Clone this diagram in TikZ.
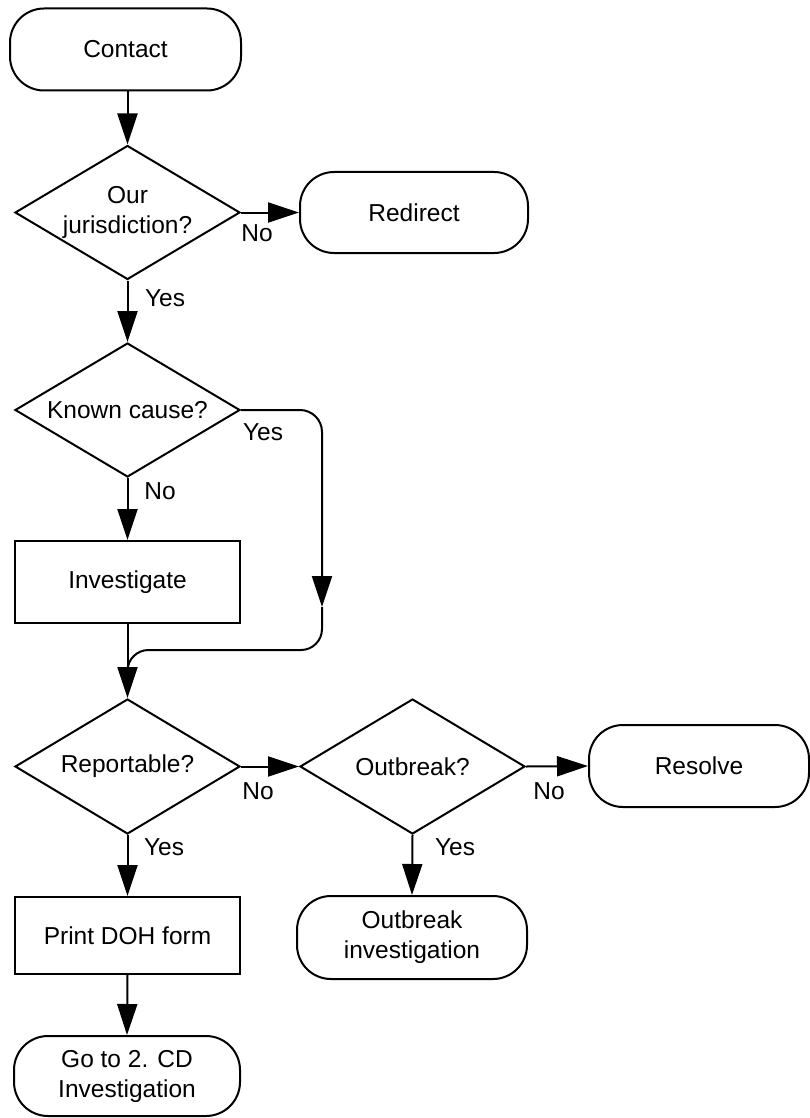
\documentclass[tikz,border=0pt]{standalone}
\usepackage{fontspec}
\setmainfont{Liberation Sans}
\usetikzlibrary{shapes.geometric,arrows.meta}
\begin{document}
\begin{tikzpicture}[x=1pt,y=-1pt,
  every node/.style={font=\fontsize{24.5}{30}\selectfont, align=center},
  stadium/.style={draw, line width=2pt, rectangle, rounded corners=34pt, inner sep=0pt},
  procbox/.style={draw, line width=2pt, rectangle, inner sep=0pt},
  decision/.style={draw, line width=2pt, diamond, aspect=1.667, inner sep=0pt, minimum width=225pt, minimum height=134pt},
  line/.style={line width=2pt},
  conn/.style={line width=2pt, -{Triangle[length=31pt,width=20pt]}},
  lbl/.style={inner sep=0pt}]
\useasboundingbox (0,0) rectangle (810,1118);

% nodes
\node[stadium, minimum width=231pt, minimum height=82pt] (contact) at (125.5,49.5) {Contact};
\node[decision] (jur) at (127.5,212.5) {Our\\jurisdiction?};
\node[stadium, minimum width=228pt, minimum height=81pt] (redirect) at (414,212.5) {Redirect};
\node[decision] (known) at (127.5,410) {Known cause?};
\node[procbox, minimum width=225pt, minimum height=82pt] (inv) at (127.5,582) {Investigate};
\node[decision, minimum height=135pt] (rep) at (127.5,766.5) {Reportable?};
\node[decision, minimum height=135pt] (outb) at (412.5,766.5) {Outbreak?};
\node[stadium, minimum width=220pt, minimum height=82pt] (resolve) at (699,766) {Resolve};
\node[stadium, minimum width=230pt, minimum height=83pt] (oinv) at (412,937.5) {Outbreak\\investigation};
\node[procbox, minimum width=225pt, minimum height=77pt] (print) at (127.5,935.5) {Print DOH form};
\node[stadium, minimum width=226pt, minimum height=80pt] (goto) at (127,1076) {Go to 2. CD\\Investigation};

% connectors
\draw[conn] (jur.north |- contact.south) -- (jur.north);
\draw[conn] (jur.east) -- (redirect.west);
\draw[conn] (jur.south) -- (known.north);
\draw[conn] (known.south) -- (inv.north);
\draw[conn] (inv.south) -- (rep.north);
\coordinate (kc) at (322,410);
\coordinate (ktip) at (322,607);
\coordinate (mb) at (322,650);
\coordinate (ml) at (127.5,650);
\coordinate (mend) at (127.5,671);
\draw[conn, rounded corners=22pt] (known.east) -- (kc) -- (ktip);
\draw[line, rounded corners=21pt] (ktip) -- (mb) -- (ml) -- (mend);
\draw[conn] (rep.east) -- (outb.west);
\draw[conn] (outb.east) -- (resolve.west);
\draw[conn] (outb.south) -- (oinv.north);
\draw[conn] (rep.south) -- (print.north);
\draw[conn] (print.south) -- (goto.north);

% labels
\node[lbl] (l1) at (257,233) {No};
\node[lbl] (l2) at (165,298) {Yes};
\node[lbl] (l3) at (263,432) {Yes};
\node[lbl] (l4) at (160,491) {No};
\node[lbl] (l5) at (258,791) {No};
\node[lbl] (l6) at (164,847) {Yes};
\node[lbl] (l7) at (549,791) {No};
\node[lbl] (l8) at (455,847) {Yes};
\end{tikzpicture}
\end{document}
